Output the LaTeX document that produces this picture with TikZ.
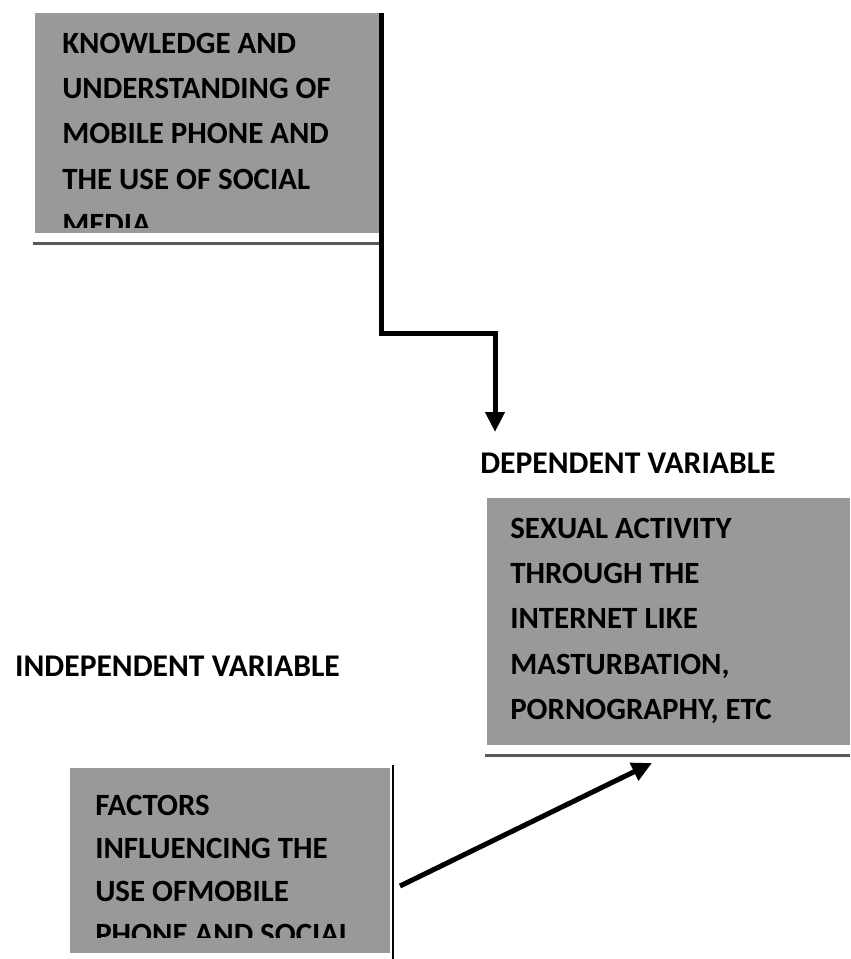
\documentclass[tikz,border=0pt]{standalone}
\usepackage{fontspec}
\setmainfont{Carlito}
\usepackage{tikz}
\usetikzlibrary{arrows.meta}

\definecolor{boxgray}{gray}{0.6}
\definecolor{rulegray}{gray}{0.35}
\newcommand{\boxfont}{\fontsize{23.2pt}{33.9pt}\selectfont\bfseries}
\newcommand{\lowboxfont}{\fontsize{23.2pt}{32.3pt}\selectfont\bfseries}
\newcommand{\headfont}{\fontsize{23.7pt}{28pt}\selectfont\bfseries}

\tikzset{
  shadebox/.style={fill=boxgray, inner sep=0pt, anchor=north west},
  boxtext/.style={font=\boxfont, align=left, inner sep=0pt, anchor=north west},
  headtext/.style={font=\headfont, inner sep=0pt},
  link/.style={line width=3.75pt, -{Triangle[width=14pt,length=15pt]}},
}

\begin{document}
\begin{tikzpicture}[x=0.75pt,y=-0.75pt]
    \useasboundingbox (0,0) rectangle (850,959);
    % knowledge box
    \node[shadebox, minimum width=259.5pt, minimum height=165pt] (knowledge) at (35,13) {};
    \draw[rulegray, line width=2.25pt] (33,243) -- (381,243);
    \begin{scope}
        \clip (35,13) rectangle (381,228);
        \node[boxtext] (knowtext) at (62,33) {KNOWLEDGE AND\\UNDERSTANDING OF\\MOBILE PHONE AND\\THE USE OF SOCIAL\\MEDIA};
    \end{scope}
    % dependent side
    \node[headtext, anchor=north west] (deplabel) at (480,453) {DEPENDENT VARIABLE};
    \node[shadebox, minimum width=272.25pt, minimum height=185.25pt] (sexual) at (487,498) {};
    \node[boxtext] (sextext) at (510,518) {SEXUAL ACTIVITY\\THROUGH THE\\INTERNET LIKE\\MASTURBATION,\\PORNOGRAPHY, ETC};
    \draw[rulegray, line width=2.25pt] (485,755) -- (850,755);
    % independent side
    \node[headtext, anchor=north east] (indeplabel) at (340,656) {INDEPENDENT VARIABLE};
    \node[shadebox, minimum width=240pt, minimum height=138.75pt] (factors) at (70,768) {};
    \draw[line width=1.5pt] (393,765) -- (393,959);
    \begin{scope}
        \clip (70,768) rectangle (390,937);
        \node[boxtext, font=\lowboxfont] (factext) at (95,795) {FACTORS\\INFLUENCING THE\\USE OFMOBILE\\PHONE AND SOCIAL};
    \end{scope}
    % arrows
    \coordinate (bend) at (495,333);
    \coordinate (deptip) at (495,432);
    \coordinate (factail) at (400,886);
    \coordinate (sextip) at (652,763);
    \draw[link] (knowledge.north east) |- (bend) -- (deptip);
    \draw[link] (factail) -- (sextip);
\end{tikzpicture}
\end{document}
